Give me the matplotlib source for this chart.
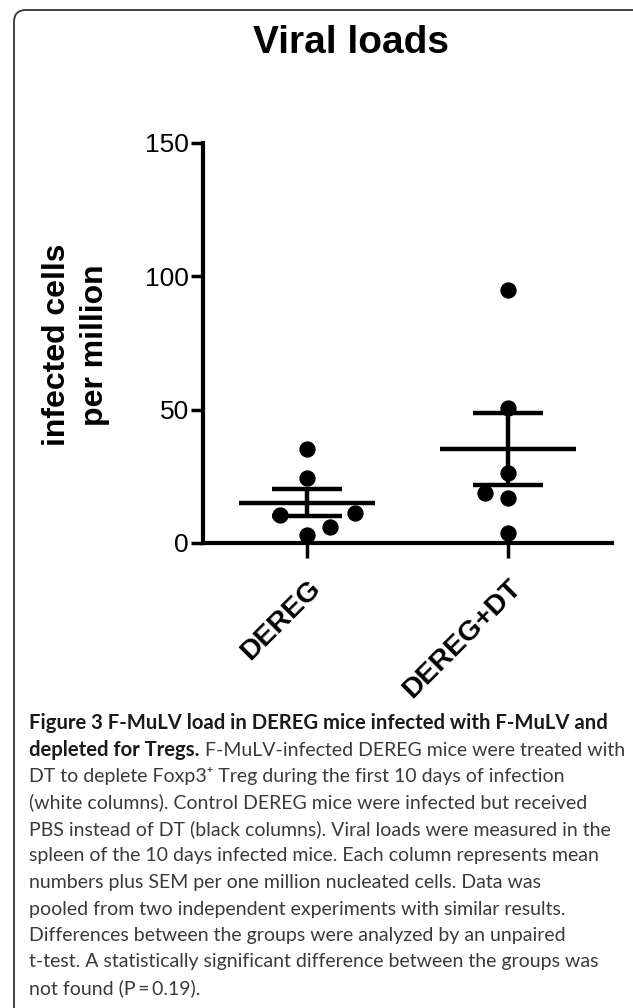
import numpy as np
import matplotlib
matplotlib.use("Agg")
import matplotlib.pyplot as plt
from matplotlib.patches import FancyBboxPatch
from matplotlib.transforms import IdentityTransform

# Data (infected cells per million)
groups = ["DEREG", "DEREG+DT"]
dereg = [35.2, 24.4, 10.5, 11.3, 6.0, 3.0]
dereg_dt = [95.0, 50.6, 26.2, 18.8, 16.9, 3.8]
# horizontal spread of the dots (like the scatter layout in the original)
dereg_dx = [0, 0, -0.135, 0.24, 0.115, 0]
dereg_dt_dx = [0, 0, 0, -0.115, 0, 0]
yticks = [0, 50, 100, 150]

caption_bold = "Figure 3 F-MuLV load in DEREG mice infected with F-MuLV and"
caption_bold2 = "depleted for Tregs."
caption_rest2 = " F-MuLV-infected DEREG mice were treated with"
caption_lines = [
    "DT to deplete Foxp3\u207a Treg during the first 10 days of infection",
    "(white columns). Control DEREG mice were infected but received",
    "PBS instead of DT (black columns). Viral loads were measured in the",
    "spleen of the 10 days infected mice. Each column represents mean",
    "numbers plus SEM per one million nucleated cells. Data was",
    "pooled from two independent experiments with similar results.",
    "Differences between the groups were analyzed by an unpaired",
    "t-test. A statistically significant difference between the groups was",
    "not found (P\u2009=\u20090.19).",
]

W, H = 633, 1008
fig = plt.figure(figsize=(W / 100, H / 100), dpi=100)
plt.rcParams['font.family'] = ['Liberation Sans', 'DejaVu Sans']

# rounded frame (runs off the right and bottom edges)
frame = FancyBboxPatch((14, -30), 660, H - 10 + 30, boxstyle="round,pad=0,rounding_size=12",
                       transform=IdentityTransform(), fill=False, ec='#333333', lw=1.3)
fig.patches.append(frame)

ax = fig.add_axes([203 / W, (H - 543) / H, 409 / W, 400 / H])
ax.set_xlim(-0.52, 1.52)
ax.set_ylim(0, 150)
for s in ['top', 'right']:
    ax.spines[s].set_visible(False)
for s in ['left', 'bottom']:
    ax.spines[s].set_linewidth(3)

for i, (vals, dx) in enumerate([(dereg, dereg_dx), (dereg_dt, dereg_dt_dx)]):
    vals = np.array(vals)
    xs = i + np.array(dx)
    ax.scatter(xs, vals, s=115, color='black', zorder=4, clip_on=False)
    m = vals.mean()
    sem = vals.std(ddof=1) / np.sqrt(len(vals))
    ax.hlines(m, i - 0.34, i + 0.34, color='black', lw=3.2, zorder=3)
    ax.vlines(i, m - sem, m + sem, color='black', lw=3.2, zorder=3)
    ax.hlines([m - sem, m + sem], i - 0.175, i + 0.175, color='black', lw=3.2, zorder=3)

ax.set_yticks(yticks)
ax.set_yticklabels([str(t) for t in yticks], fontsize=19)
ax.set_xticks([0, 1])
ax.set_xticklabels(groups, fontsize=20.5, fontweight='bold', rotation=45,
                   ha='right', rotation_mode='anchor')
ax.tick_params(axis='y', length=9, width=2.5, pad=1)
ax.tick_params(axis='x', length=11, width=2.5, pad=12)

fig.text(351 / W, 1 - 43 / H, "Viral loads", ha='center', va='center',
         fontsize=28, fontweight='bold')
fig.text(76 / W, 1 - 345 / H, "infected cells\nper million", ha='center', va='center',
         rotation=90, fontsize=23, fontweight='bold', linespacing=1.35,
         multialignment='center')

# caption
cap_font = ['Lato', 'DejaVu Sans']
cap_size = 14.0
cap_bold = 14.6
x0 = 29 / W
y_first = 729
step = 26.5
fig.text(x0, 1 - y_first / H, caption_bold, fontsize=cap_bold, fontweight='bold',
         family=cap_font, color='#1a1a1a', va='baseline')
t2 = fig.text(x0, 1 - (y_first + step) / H, caption_bold2, fontsize=cap_bold,
              fontweight='bold', family=cap_font, color='#1a1a1a', va='baseline')
r = fig.canvas.get_renderer()
x_end = t2.get_window_extent(renderer=r).x1 / W
fig.text(x_end, 1 - (y_first + step) / H, caption_rest2, fontsize=cap_size,
         family=cap_font, color='#3a3a3a', va='baseline')
for k, line in enumerate(caption_lines):
    fig.text(x0, 1 - (y_first + step * (k + 2)) / H, line, fontsize=cap_size,
             family=cap_font, color='#3a3a3a', va='baseline')

fig.savefig("out.png", dpi=100)
